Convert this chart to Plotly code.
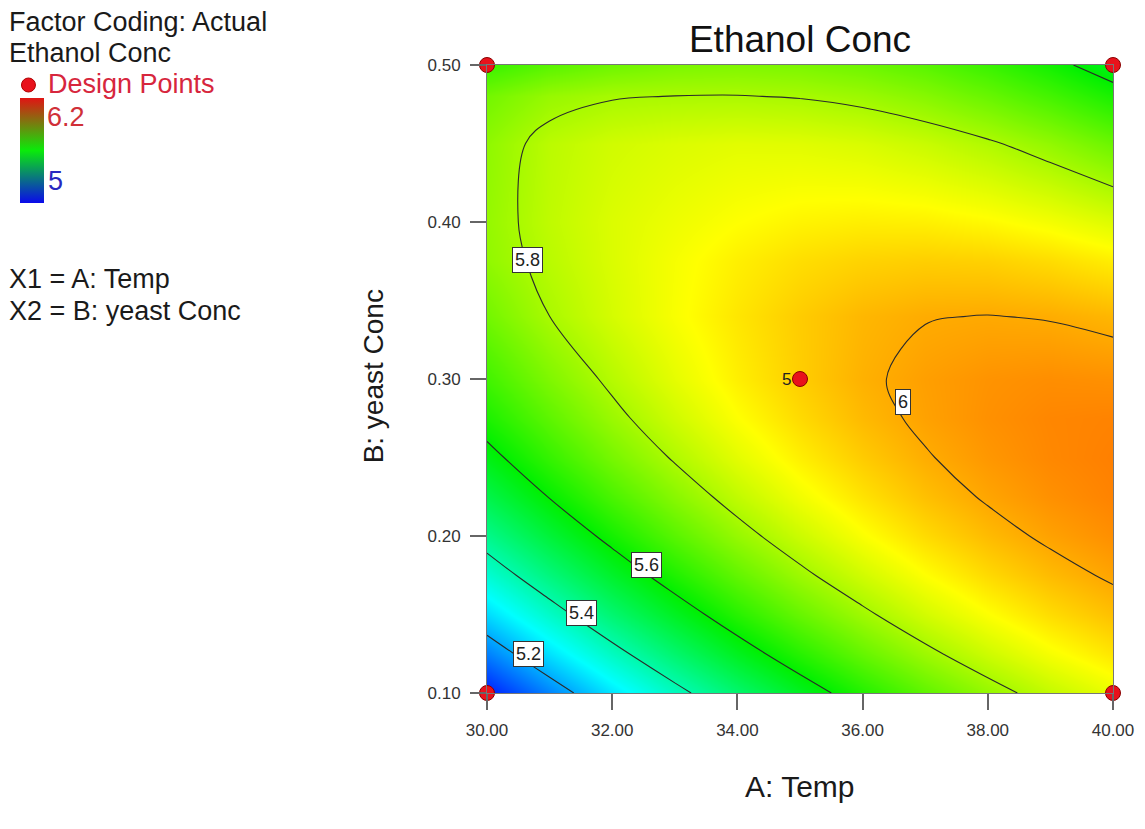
import plotly.graph_objects as go

# ---------------- data ----------------
temp = [30, 31, 32, 33, 34, 35, 36, 37, 38, 39, 40]
yeast = [0.10, 0.125, 0.15, 0.175, 0.20, 0.225, 0.25, 0.275, 0.30, 0.34, 0.375, 0.40, 0.45, 0.48, 0.50]
ethanol = [
    [5.034, 5.156, 5.270, 5.375, 5.471, 5.560, 5.640, 5.711, 5.774, 5.829, 5.875],
    [5.150, 5.266, 5.373, 5.472, 5.563, 5.645, 5.719, 5.784, 5.841, 5.890, 5.930],
    [5.256, 5.365, 5.467, 5.559, 5.644, 5.720, 5.787, 5.847, 5.897, 5.940, 5.974],
    [5.352, 5.455, 5.550, 5.637, 5.715, 5.785, 5.846, 5.899, 5.944, 5.980, 6.008],
    [5.437, 5.534, 5.623, 5.704, 5.776, 5.839, 5.895, 5.942, 5.980, 6.010, 6.032],
    [5.512, 5.603, 5.686, 5.760, 5.826, 5.884, 5.933, 5.974, 6.006, 6.030, 6.046],
    [5.577, 5.662, 5.739, 5.807, 5.867, 5.918, 5.961, 5.996, 6.022, 6.040, 6.050],
    [5.633, 5.711, 5.782, 5.844, 5.898, 5.943, 5.982, 6.010, 6.030, 6.042, 6.046],
    [5.677, 5.750, 5.814, 5.870, 5.918, 5.958, 5.992, 6.013, 6.027, 6.033, 6.030],
    [5.735, 5.800, 5.850, 5.893, 5.929, 5.960, 5.985, 5.998, 6.001, 5.997, 5.985],
    [5.770, 5.818, 5.857, 5.890, 5.918, 5.939, 5.952, 5.957, 5.954, 5.941, 5.920],
    [5.775, 5.825, 5.858, 5.880, 5.899, 5.913, 5.919, 5.917, 5.906, 5.887, 5.860],
    [5.768, 5.820, 5.845, 5.858, 5.866, 5.864, 5.855, 5.836, 5.808, 5.772, 5.726],
    [5.735, 5.778, 5.796, 5.801, 5.802, 5.797, 5.783, 5.758, 5.722, 5.680, 5.629],
    [5.667, 5.704, 5.729, 5.745, 5.750, 5.745, 5.729, 5.704, 5.667, 5.621, 5.564],
]
design_temp = [30, 30, 40, 40, 35]
design_yeast = [0.10, 0.50, 0.10, 0.50, 0.30]
center_replicates = "5"
z_min, z_max = 5.0, 6.2
contour_start, contour_end, contour_step = 5.2, 6.0, 0.2
x_ticks = [30, 32, 34, 36, 38, 40]
y_ticks = [0.10, 0.20, 0.30, 0.40, 0.50]
contour_label_text = ["5.2", "5.4", "5.6", "5.8", "6"]

# ---------------- layout helpers ----------------
# the page body has an 8px margin, so the figure is drawn 8px smaller
OFF = 8
PAGE_W, PAGE_H = 1145, 829
W, H = PAGE_W - OFF, PAGE_H - OFF
PL, PR, PT, PB = 485, 1113, 65, 693          # plot area in page pixels
L, R, T, B = PL - OFF, PAGE_W - PR, PT - OFF, PAGE_H - PB
PW, PH = PR - PL, PB - PT
FONT = "Liberation Sans, Arial, Helvetica, sans-serif"


def px_x(p):
    return (p - PL) / PW


def px_y(p):
    return (PB - p) / PH


rainbow = [[0.0, "rgb(0,0,255)"], [0.25, "rgb(0,255,255)"], [0.5, "rgb(0,240,0)"],
           [0.75, "rgb(255,255,0)"], [1.0, "rgb(255,0,0)"]]
legend_scale = [[0.0, "rgb(10,10,235)"], [0.5, "rgb(10,235,10)"], [1.0, "rgb(225,20,20)"]]

fig = go.Figure()

fig.add_trace(go.Contour(
    x=temp, y=yeast, z=ethanol,
    colorscale=rainbow, zmin=z_min, zmax=z_max, showscale=False,
    contours=dict(coloring="heatmap", start=contour_start, end=contour_end,
                  size=contour_step, showlabels=False),
    line=dict(color="#2a2a2a", width=1.1, smoothing=1.0),
    hoverinfo="skip",
))

# colour legend bar (top-left)
fig.add_trace(go.Scatter(
    x=[None], y=[None], mode="markers", showlegend=False, hoverinfo="skip",
    marker=dict(color=[z_min, z_max], cmin=z_min, cmax=z_max, colorscale=legend_scale,
                showscale=True,
                colorbar=dict(x=px_x(17), xanchor="left", y=px_y(98), yanchor="top",
                              thickness=24, thicknessmode="pixels",
                              len=105, lenmode="pixels", xpad=0, ypad=0,
                              outlinewidth=0, ticks="", showticklabels=False)),
))

fig.add_trace(go.Scatter(
    x=design_temp, y=design_yeast, mode="markers", showlegend=False,
    marker=dict(color="#e8121c", size=15, line=dict(color="#8a0000", width=1)),
    cliponaxis=False, hoverinfo="skip",
))

# contour labels placed where the reference shows them
label_pos = [(30.67, 0.1248), (31.51, 0.151), (32.55, 0.1815), (30.64, 0.3758), (36.64, 0.2854)]
annotations = []
for txt, (lx, ly) in zip(contour_label_text, label_pos):
    annotations.append(dict(x=lx, y=ly, xref="x", yref="y", text=txt, showarrow=False,
                            font=dict(family=FONT, size=18, color="#222"),
                            bgcolor="white", bordercolor="#333", borderwidth=1, borderpad=2))

annotations.append(dict(x=design_temp[4], y=design_yeast[4], xref="x", yref="y",
                        text=center_replicates, showarrow=False, xanchor="right", xshift=-7,
                        font=dict(family=FONT, size=17, color="#222")))

left_texts = [
    ("Factor Coding: Actual", 3, 22, "#1a1a1a"),
    ("Ethanol Conc", 3, 53, "#1a1a1a"),
    ("Design Points", 43, 84, "#d7263d"),
    ("6.2", 42, 117, "#d03038"),
    ("5", 43, 181, "#2828c0"),
    ("X1 = A: Temp", 3, 279, "#1a1a1a"),
    ("X2 = B: yeast Conc", 3, 311, "#1a1a1a"),
]
for txt, lx, ly, col in left_texts:
    annotations.append(dict(x=px_x(lx), y=px_y(ly), xref="paper", yref="paper", text=txt,
                            showarrow=False, xanchor="left", yanchor="middle",
                            font=dict(family=FONT, size=27, color=col)))

annotations.append(dict(x=0.5, y=px_y(786), xref="paper", yref="paper", text="A: Temp",
                        showarrow=False, xanchor="center", yanchor="middle",
                        font=dict(family=FONT, size=30, color="#1a1a1a")))
annotations.append(dict(x=px_x(372), y=px_y(376), xref="paper", yref="paper",
                        text="B: yeast Conc", textangle=-90, showarrow=False,
                        xanchor="center", yanchor="middle",
                        font=dict(family=FONT, size=28, color="#1a1a1a")))

shapes = [dict(type="circle", xref="paper", yref="paper",
               x0=px_x(18), x1=px_x(32), y0=px_y(92), y1=px_y(78),
               fillcolor="#e8121c", line=dict(color="#b00000", width=1))]

fig.update_layout(
    width=W, height=H, autosize=False,
    margin=dict(l=L, r=R, t=T, b=B, pad=0),
    paper_bgcolor="white", plot_bgcolor="white",
    font=dict(family=FONT, color="#222"),
    title=dict(text="Ethanol Conc", xref="paper", x=0.5, xanchor="center",
               y=1 - (39 - OFF) / H, yanchor="middle",
               font=dict(family=FONT, size=37, color="#111")),
    xaxis=dict(range=[30, 40], tickvals=x_ticks, tickformat=".2f", ticks="outside",
               ticklen=16, tickwidth=1.5, tickcolor="#666", showgrid=False, zeroline=False,
               showline=True, linecolor="#777", linewidth=1, mirror=True,
               tickfont=dict(family=FONT, size=17, color="#333"), ticklabelstandoff=6),
    yaxis=dict(range=[0.10, 0.50], tickvals=y_ticks, tickformat=".2f", ticks="outside",
               ticklen=16, tickwidth=1.5, tickcolor="#666", showgrid=False, zeroline=False,
               showline=True, linecolor="#777", linewidth=1, mirror=True,
               tickfont=dict(family=FONT, size=17, color="#333"), ticklabelstandoff=6),
    annotations=annotations,
    shapes=shapes,
)

fig.write_html("out.html")
